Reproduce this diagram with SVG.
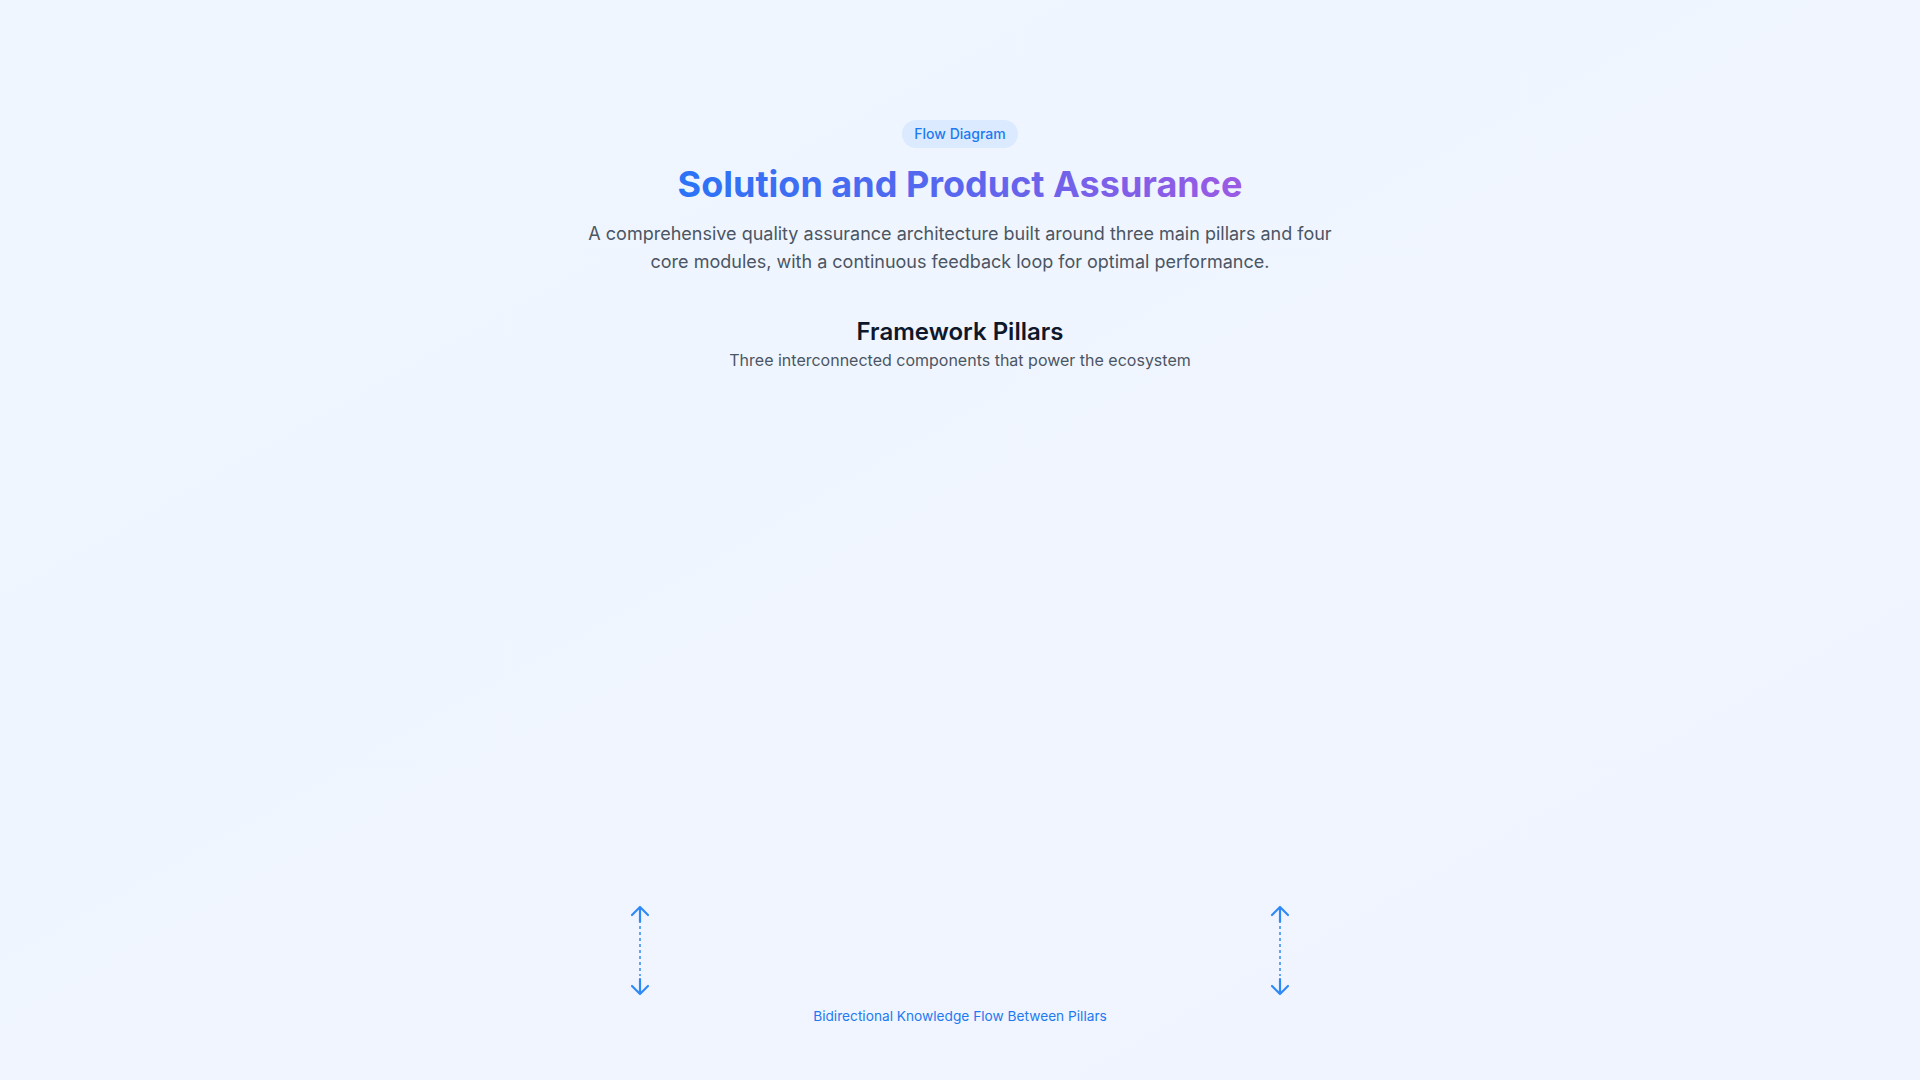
<svg xmlns="http://www.w3.org/2000/svg" width="1920" height="1080" viewBox="0 0 1920 1080">
  <defs>
    <linearGradient id="bg" x1="0" y1="0" x2="1" y2="1">
      <stop offset="0" stop-color="#eff6ff"/>
      <stop offset="1" stop-color="#f0f4ff"/>
    </linearGradient>
    <linearGradient id="titleGrad" gradientUnits="userSpaceOnUse" x1="679" y1="0" x2="1243" y2="0">
      <stop offset="0" stop-color="#2b73f6"/>
      <stop offset="0.5" stop-color="#5a66ee"/>
      <stop offset="1" stop-color="#9b5ae4"/>
    </linearGradient>
    <style>
      .sans { font-family: Inter, "Liberation Sans", sans-serif; }
      .arrow { fill: none; stroke: #2f8af5; stroke-width: 2.2; stroke-linecap: round; stroke-linejoin: round; }
      .dash { fill: none; stroke: #2f8af5; stroke-width: 1.5; stroke-dasharray: 3 3; }
    </style>
  </defs>

  <rect width="1920" height="1080" fill="url(#bg)"/>

  <g id="header">
    <rect x="902" y="120" width="116" height="28" rx="14" fill="#dbeafe"/>
    <text class="sans" x="960" y="139" text-anchor="middle" font-size="14" font-weight="500" fill="#1d7af0">Flow Diagram</text>
    <text class="sans" x="960" y="197" text-anchor="middle" font-size="36" font-weight="700" fill="url(#titleGrad)">Solution and Product Assurance</text>
    <text class="sans" x="960" y="240" text-anchor="middle" font-size="18" fill="#4b5563">A comprehensive quality assurance architecture built around three main pillars and four</text>
    <text class="sans" x="960" y="268" text-anchor="middle" font-size="18" fill="#4b5563">core modules, with a continuous feedback loop for optimal performance.</text>
  </g>

  <g id="section-heading">
    <text class="sans" x="960" y="340" text-anchor="middle" font-size="24" font-weight="600" fill="#0f172a">Framework Pillars</text>
    <text class="sans" x="960" y="366" text-anchor="middle" font-size="16" fill="#4b5563">Three interconnected components that power the ecosystem</text>
  </g>

  <g id="connectors">
    <g id="flow-left">
      <path class="arrow" d="M632 915 L640 907 L648 915 M640 907 V922"/>
      <line class="dash" x1="640" y1="926" x2="640" y2="976"/>
      <path class="arrow" d="M640 979 V994 M632 986 L640 994 L648 986"/>
    </g>
    <g id="flow-right">
      <path class="arrow" d="M1272 915 L1280 907 L1288 915 M1280 907 V922"/>
      <line class="dash" x1="1280" y1="926" x2="1280" y2="976"/>
      <path class="arrow" d="M1280 979 V994 M1272 986 L1280 994 L1288 986"/>
    </g>
  </g>

  <g id="flow-label">
    <text class="sans" x="960" y="1021" text-anchor="middle" font-size="13.7" fill="#1d7af0">Bidirectional Knowledge Flow Between Pillars</text>
  </g>
</svg>
